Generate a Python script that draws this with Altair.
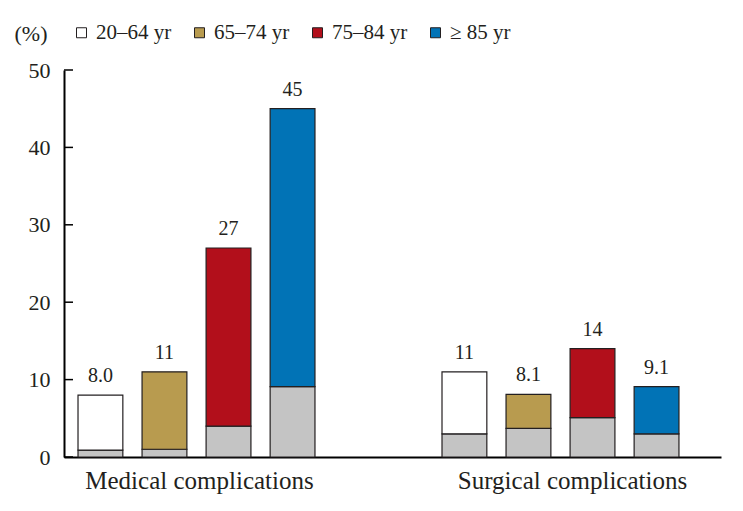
import altair as alt
import pandas as pd

groups = ["Medical complications", "Surgical complications"]
ages = ["20–64 yr", "65–74 yr", "75–84 yr", "≥ 85 yr"]
colors = ["#ffffff", "#b89b4f", "#b20f1b", "#0173b6"]

total_medical = [8.0, 11, 27, 45]
total_surgical = [11, 8.1, 14, 9.1]
base_medical = [0.9, 1.0, 4.0, 9.1]
base_surgical = [3.0, 3.7, 5.1, 3.0]
label_medical = ["8.0", "11", "27", "45"]
label_surgical = ["11", "8.1", "14", "9.1"]

y_ticks = [0, 10, 20, 30, 40, 50]

rows = []
for g, tots, bases, labs in [
    (groups[0], total_medical, base_medical, label_medical),
    (groups[1], total_surgical, base_surgical, label_surgical),
]:
    for a, t, b, l in zip(ages, tots, bases, labs):
        rows.append({"group": g, "age": a, "total": t, "base": b, "label": l})
df = pd.DataFrame(rows)
ticks_df = pd.DataFrame({"v": y_ticks})

FONT = "Liberation Serif"

x_enc = alt.X(
    "group:N",
    sort=groups,
    scale=alt.Scale(paddingInner=0.349, paddingOuter=0.077, align=0.25),
    axis=alt.Axis(
        title=None, labelAngle=0, ticks=False, domain=True, domainColor="black",
        domainWidth=2, labelFontSize=25, labelFont=FONT, labelColor="#231f20",
        labelPadding=11, labelLimit=0,
        labelOffset={"condition": {"test": "datum.value == 'Surgical complications'", "value": 12}, "value": 3},
    ),
)
xo_enc = alt.XOffset("age:N", sort=ages, scale=alt.Scale(paddingInner=0.3, paddingOuter=0))
y_scale = alt.Scale(domain=[0, 50], nice=False)

base = alt.Chart(df)

colored = base.mark_bar(stroke="#231f20", strokeWidth=1.2).encode(
    x=x_enc,
    xOffset=xo_enc,
    y=alt.Y(
        "total:Q",
        scale=y_scale,
        axis=alt.Axis(
            values=y_ticks, ticks=False, grid=False, domainColor="black", domainWidth=2,
            labelFontSize=22, labelFont=FONT, labelColor="#231f20", labelPadding=14,
            title="(%)", titleAngle=0, titleFont=FONT, titleFontSize=22,
            titleFontWeight="normal", titleColor="#231f20", titleAlign="left",
            titleBaseline="alphabetic", titleX=-50, titleY=-30,
        ),
    ),
    y2="base:Q",
    color=alt.Color(
        "age:N",
        sort=ages,
        scale=alt.Scale(domain=ages, range=colors),
        legend=alt.Legend(
            title=None, orient="none", direction="horizontal", legendX=7, legendY=-48,
            symbolType="square", symbolSize=100, symbolStrokeColor="#231f20",
            symbolStrokeWidth=1, symbolOpacity=1, labelFont=FONT, labelFontSize=21,
            labelColor="#231f20", columnPadding=17, labelOffset=4,
        ),
    ),
)

gray = base.mark_bar(stroke="#231f20", strokeWidth=1.2, color="#c4c4c4").encode(
    x=x_enc,
    xOffset=xo_enc,
    y=alt.Y("base:Q", scale=y_scale, stack=None),
)

labels = base.mark_text(
    baseline="bottom", dy=-9, font=FONT, fontSize=20, color="#231f20"
).encode(
    x=x_enc,
    xOffset=xo_enc,
    y=alt.Y("total:Q", scale=y_scale),
    text="label:N",
)

tick_marks = alt.Chart(ticks_df).mark_rule(color="black", strokeWidth=1.5).encode(
    x=alt.value(0), x2=alt.value(9), y=alt.Y("v:Q", scale=y_scale)
)

chart = (
    alt.layer(gray, colored, labels, tick_marks)
    .properties(
        width=657, height=387,
        autosize=alt.AutoSizeParams(type="none"),
        padding={"left": 56, "top": 62, "right": 10, "bottom": 50},
        background="white",
    )
    .configure_view(strokeWidth=0, stroke=None)
)

chart.save("out.html", embed_options={"renderer": "svg", "actions": False})
